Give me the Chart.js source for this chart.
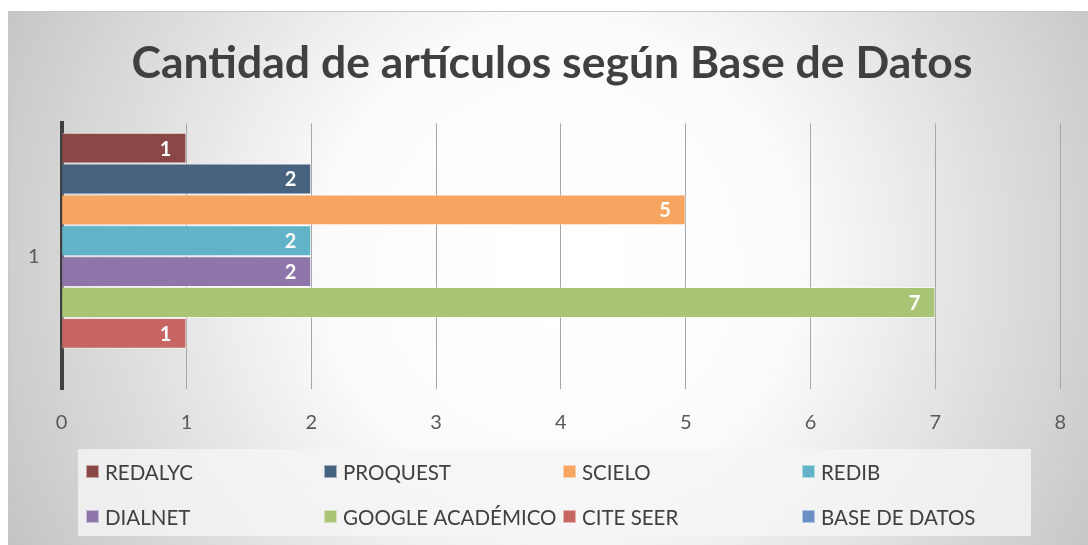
<!DOCTYPE html>
<html>
<head>
<meta charset="utf-8">
<script src="https://cdn.jsdelivr.net/npm/chart.js@4.4.1/dist/chart.umd.min.js"></script>
<style>
  html, body { margin: 0; padding: 0; background: #ffffff; }
  #wrap { width: 1088px; height: 545px; position: relative; }
</style>
</head>
<body>
<div id="wrap"><canvas id="chart-bases"></canvas></div>
<script>
// data
var categories = ['1'];
var seriesNames = ['REDALYC', 'PROQUEST', 'SCIELO', 'REDIB', 'DIALNET', 'GOOGLE ACADÉMICO', 'CITE SEER', 'BASE DE DATOS'];
var seriesValues = [1, 2, 5, 2, 2, 7, 1, null];
var seriesColors = ['#8b4746', '#47627f', '#f7a560', '#61b3c8', '#8f76aa', '#a8c474', '#c86664', '#6a8fc6'];
var xTicks = [0, 1, 2, 3, 4, 5, 6, 7, 8];

var fontName = 'Lato, "Open Sans", sans-serif';

var datasets = [];
for (var i = 0; i < seriesNames.length; i++) {
  datasets.push({
    label: seriesNames[i],
    data: [seriesValues[i]],
    backgroundColor: seriesColors[i],
    borderColor: 'rgba(255,255,255,0.45)',
    borderWidth: 1,
    categoryPercentage: 0.93,
    barPercentage: 1.0
  });
}

// gray radial background like the office chart frame
var backgroundPlugin = {
  id: 'frameBackground',
  afterLayout: function (chart) {
    // title in the original sits a bit right of the plot centre
    if (chart.titleBlock) {
      chart.titleBlock.left += 16;
      chart.titleBlock.right += 16;
    }
  },
  beforeDraw: function (chart) {
    var ctx = chart.ctx;
    ctx.save();
    var g = ctx.createRadialGradient(560, 260, 30, 560, 260, 620);
    g.addColorStop(0, '#ffffff');
    g.addColorStop(0.35, '#fbfbfb');
    g.addColorStop(1, '#c4c4c4');
    ctx.fillStyle = g;
    ctx.fillRect(8, 11, chart.width - 8, chart.height - 11);
    ctx.strokeStyle = '#c8c8c8';
    ctx.lineWidth = 1;
    ctx.beginPath();
    ctx.moveTo(8, 11.5);
    ctx.lineTo(chart.width, 11.5);
    ctx.moveTo(8.5, 11);
    ctx.lineTo(8.5, chart.height);
    ctx.stroke();
    ctx.restore();
  }
};

// white numbers at the end of each bar
var valueLabelPlugin = {
  id: 'valueLabels',
  afterDatasetsDraw: function (chart) {
    var ctx = chart.ctx;
    ctx.save();
    ctx.font = 'bold 20px ' + fontName;
    ctx.fillStyle = '#ffffff';
    ctx.textAlign = 'right';
    ctx.textBaseline = 'middle';
    chart.data.datasets.forEach(function (ds, di) {
      var meta = chart.getDatasetMeta(di);
      meta.data.forEach(function (bar, idx) {
        var v = ds.data[idx];
        if (v === null || v === undefined) return;
        ctx.fillText(String(v), bar.x - 15, bar.y + 1);
      });
    });
    ctx.restore();
  }
};

// legend laid out in a 4 column grid, like the original
var gridLegendPlugin = {
  id: 'gridLegend',
  afterDraw: function (chart) {
    var ctx = chart.ctx;
    ctx.save();
    ctx.fillStyle = 'rgba(245,245,245,0.8)';
    ctx.fillRect(78, 449, 953, 87);
    var colX = [86, 324, 563, 802];
    var rowY = [472, 517];
    ctx.font = '20.5px ' + fontName;
    ctx.textAlign = 'left';
    ctx.textBaseline = 'middle';
    chart.data.datasets.forEach(function (ds, di) {
      var x = colX[di % 4];
      var y = rowY[Math.floor(di / 4)];
      ctx.fillStyle = ds.backgroundColor;
      ctx.fillRect(x, y - 7, 13, 13);
      ctx.strokeStyle = 'rgba(255,255,255,0.5)';
      ctx.lineWidth = 1;
      ctx.strokeRect(x + 0.5, y - 6.5, 12, 12);
      ctx.fillStyle = '#404040';
      ctx.fillText(ds.label, x + 19, y + 1);
    });
    ctx.restore();
  }
};

var chartContext = document.getElementById('chart-bases');
var chart = new Chart(chartContext, {
  type: 'bar',
  data: {
    labels: categories,
    datasets: datasets
  },
  plugins: [backgroundPlugin, valueLabelPlugin, gridLegendPlugin],
  options: {
    responsive: true,
    maintainAspectRatio: false,
    animation: false,
    indexAxis: 'y',
    layout: {
      padding: { left: 6, right: 22, top: 0, bottom: 88 }
    },
    plugins: {
      legend: { display: false },
      tooltip: { enabled: false },
      title: {
        display: true,
        text: 'Cantidad de artículos según Base de Datos',
        color: '#404040',
        font: { family: fontName, size: 44.5, weight: 'bold' },
        padding: { top: 37, bottom: 33 }
      }
    },
    scales: {
      x: {
        min: 0,
        max: 8,
        afterBuildTicks: function (scale) {
          scale.ticks = xTicks.map(function (v) { return { value: v }; });
        },
        grid: { color: '#a6a6a6', lineWidth: 1, drawTicks: false },
        border: { display: false },
        ticks: {
          color: '#595959',
          padding: 22,
          font: { family: fontName, size: 20 }
        }
      },
      y: {
        grid: { display: false, drawTicks: false },
        border: { display: true, color: '#404040', width: 4 },
        ticks: {
          color: '#595959',
          padding: 22,
          font: { family: fontName, size: 20 }
        }
      }
    }
  }
});
</script>
</body>
</html>
